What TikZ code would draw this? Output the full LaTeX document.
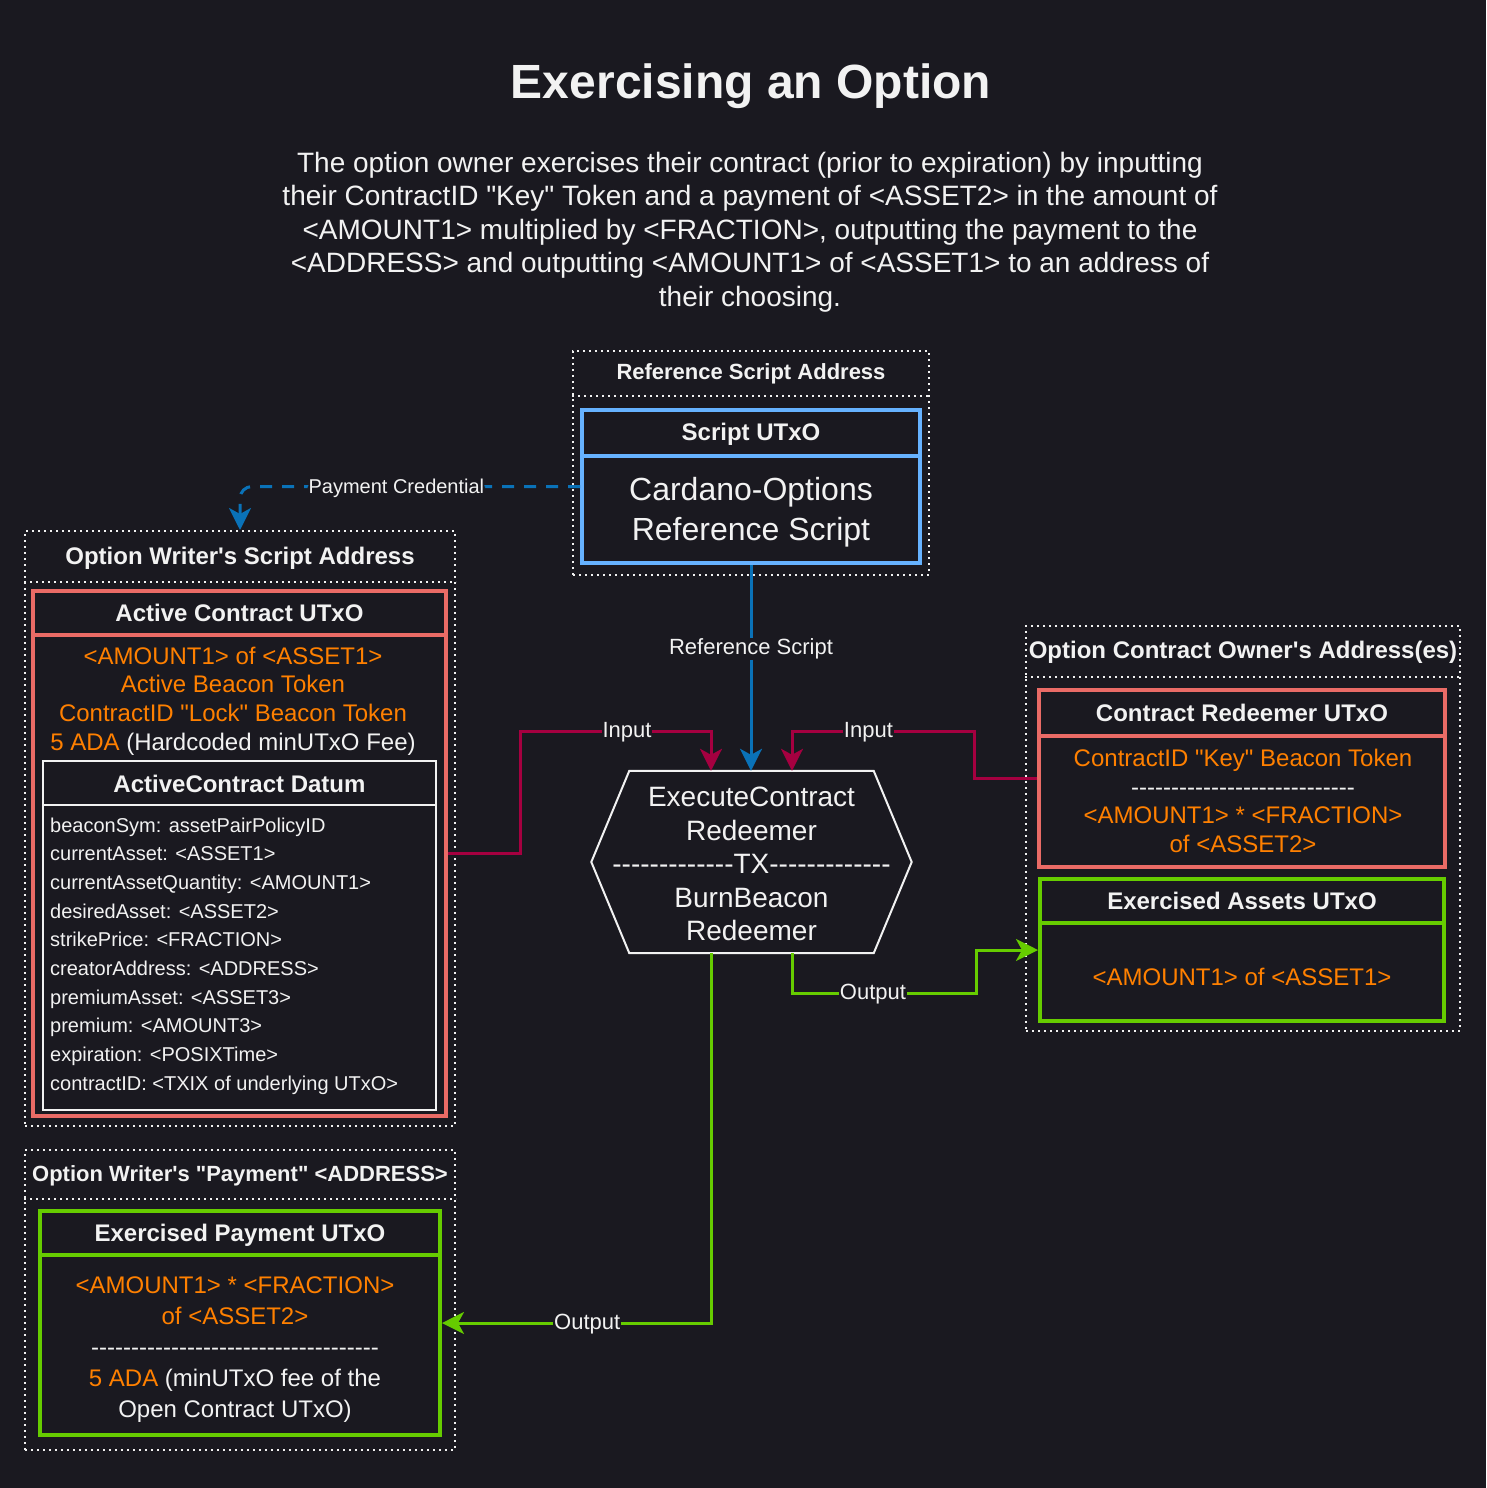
\documentclass[tikz,border=0pt]{standalone}
\usepackage{fontspec}
\setmainfont{Liberation Sans}[Ligatures=TeXOff]
\usetikzlibrary{arrows.meta}
\definecolor{bgcol}{HTML}{1A1920}
\definecolor{fgcol}{HTML}{F2F2F2}
\definecolor{redcol}{HTML}{EA6B66}
\definecolor{bluecol}{HTML}{66B2FF}
\definecolor{greencol}{HTML}{66CC00}
\definecolor{orangecol}{HTML}{FF8000}
\definecolor{linkblue}{HTML}{0A72B8}
\definecolor{inputcol}{HTML}{A50040}
\newcommand{\setfs}[2]{\fontsize{#1pt}{#2pt}\selectfont}
\tikzset{
  every node/.style={text=fgcol, inner sep=0pt},
  addrbox/.style={draw=fgcol, line width=2pt, dash pattern=on 2pt off 4pt},
  addrline/.style={fgcol, line width=2pt, dash pattern=on 2pt off 4pt},
  utxobox/.style={line width=4pt},
  addrtitle/.style={font=\bfseries\setfs{24}{29}},
  boxtitle/.style={font=\bfseries\setfs{24}{29}},
  bodytext/.style={font=\setfs{24}{28.8}, align=center},
  fieldtext/.style={font=\setfs{20}{28.7}, align=left},
  edgelabel/.style={font=\setfs{22}{26}, fill=bgcol, inner sep=1pt, yshift=-1.5pt},
  link/.style={line width=3pt, ->},
}

\begin{document}
\begin{tikzpicture}[x=1pt, y=-1pt, >={Stealth[length=22pt, width=22pt, inset=6pt]}]

  % Background.
  \fill[bgcol] (0,0) rectangle (1486,1488);
  \useasboundingbox (0,0) rectangle (1486,1488);

  % Title and description.
  \node[font=\bfseries\setfs{48}{58}] (title) at (751,86) {Exercising an Option};
  \node[font=\setfs{28}{33.6}, align=center] (desc) at (750,232)
    {The option owner exercises their contract (prior to expiration) by inputting\\
     their ContractID "Key" Token and a payment of <ASSET2> in the amount of\\
     <AMOUNT1> multiplied by <FRACTION>, outputting the payment to the\\
     <ADDRESS> and outputting <AMOUNT1> of <ASSET1> to an address of\\
     their choosing.};

  % Reference script address.
  \node[addrbox, minimum width=356pt, minimum height=224pt] (refaddr) at (751,463) {};
  \draw[addrline] ([yshift=-46pt]refaddr.north west) -- ([yshift=-46pt]refaddr.north east);
  \node[font=\bfseries\setfs{22}{26}] (reftitle) at ([yshift=-24pt]refaddr.north) {Reference Script Address};

  \node[utxobox, draw=bluecol, minimum width=338pt, minimum height=153pt] (script) at (751,486.5) {};
  \draw[utxobox, bluecol] ([yshift=-48pt]script.north west) -- ([yshift=-48pt]script.north east);
  \node[boxtitle] (scripttitle) at ([yshift=-26pt]script.north) {Script UTxO};
  \node[font=\setfs{32}{40}, align=center] (scriptbody) at (751,512) {Cardano-Options\\Reference Script};

  % Option writer's script address.
  \node[addrbox, minimum width=430pt, minimum height=595pt] (writeraddr) at (240,828.5) {};
  \draw[addrline] ([yshift=-52pt]writeraddr.north west) -- ([yshift=-52pt]writeraddr.north east);
  \node[addrtitle] (writertitle) at ([yshift=-28pt]writeraddr.north) {Option Writer's Script Address};

  \node[utxobox, draw=redcol, minimum width=413pt, minimum height=525pt] (active) at (239.5,853.5) {};
  \draw[utxobox, redcol] ([yshift=-46pt]active.north west) -- ([yshift=-46pt]active.north east);
  \node[boxtitle] (activetitle) at ([yshift=-24pt]active.north) {Active Contract UTxO};
  \node[bodytext] (activebody) at (233,701)
    {\textcolor{orangecol}{<AMOUNT1> of <ASSET1>}\\
     \textcolor{orangecol}{Active Beacon Token}\\
     \textcolor{orangecol}{ContractID "Lock" Beacon Token}\\
     \textcolor{orangecol}{5 ADA} (Hardcoded minUTxO Fee)};

  \node[draw=fgcol, line width=2pt, minimum width=393pt, minimum height=349pt] (datum) at (239.5,935.5) {};
  \draw[fgcol, line width=2pt] ([yshift=-45pt]datum.north west) -- ([yshift=-45pt]datum.north east);
  \node[boxtitle] (datumtitle) at ([yshift=-24pt]datum.north) {ActiveContract Datum};
  \node[fieldtext, anchor=west] (datumfields) at (50,956)
    {beaconSym: assetPairPolicyID\\
     currentAsset: <ASSET1>\\
     currentAssetQuantity: <AMOUNT1>\\
     desiredAsset: <ASSET2>\\
     strikePrice: <FRACTION>\\
     creatorAddress: <ADDRESS>\\
     premiumAsset: <ASSET3>\\
     premium: <AMOUNT3>\\
     expiration: <POSIXTime>\\
     contractID: <TXIX of underlying UTxO>};

  % Option writer's payment address.
  \node[addrbox, minimum width=430pt, minimum height=300pt] (payaddr) at (240,1300) {};
  \draw[addrline] ([yshift=-50pt]payaddr.north west) -- ([yshift=-50pt]payaddr.north east);
  \node[font=\bfseries\setfs{22}{26}] (paytitle) at ([yshift=-27pt]payaddr.north) {Option Writer's "Payment" <ADDRESS>};

  \node[utxobox, draw=greencol, minimum width=400pt, minimum height=224pt] (paybox) at (240,1323) {};
  \draw[utxobox, greencol] ([yshift=-46pt]paybox.north west) -- ([yshift=-46pt]paybox.north east);
  \node[boxtitle] (payboxtitle) at ([yshift=-26pt]paybox.north) {Exercised Payment UTxO};
  \node[font=\setfs{24}{31}, align=center] (paybody) at (235,1350)
    {\textcolor{orangecol}{<AMOUNT1> * <FRACTION>}\\
     \textcolor{orangecol}{of <ASSET2>}\\
     ------------------------------------\\
     \textcolor{orangecol}{5 ADA} (minUTxO fee of the\\
     Open Contract UTxO)};

  % Option contract owner's address.
  \node[addrbox, minimum width=434pt, minimum height=405pt] (owneraddr) at (1243,828.5) {};
  \draw[addrline] ([yshift=-52pt]owneraddr.north west) -- ([yshift=-52pt]owneraddr.north east);
  \node[addrtitle] (ownertitle) at ([yshift=-27pt]owneraddr.north) {Option Contract Owner's Address(es)};

  \node[utxobox, draw=redcol, minimum width=406pt, minimum height=177pt] (redeemer) at (1242,778.5) {};
  \draw[utxobox, redcol] ([yshift=-48pt]redeemer.north west) -- ([yshift=-48pt]redeemer.north east);
  \node[boxtitle] (redeemertitle) at ([yshift=-25pt]redeemer.north) {Contract Redeemer UTxO};
  \node[bodytext] (redeemerbody) at (1243,801)
    {\textcolor{orangecol}{ContractID "Key" Beacon Token}\\
     ----------------------------\\
     \textcolor{orangecol}{<AMOUNT1> * <FRACTION>}\\
     \textcolor{orangecol}{of <ASSET2>}};

  \node[utxobox, draw=greencol, minimum width=404pt, minimum height=142pt] (assets) at (1242,950) {};
  \draw[utxobox, greencol] ([yshift=-46pt]assets.north west) -- ([yshift=-46pt]assets.north east);
  \node[boxtitle] (assetstitle) at ([yshift=-24pt]assets.north) {Exercised Assets UTxO};
  \node[bodytext, text=orangecol] (assetsbody) at (1242,977) {<AMOUNT1> of <ASSET1>};

  % Transaction.
  \node[minimum width=320pt, minimum height=182pt] (tx) at (751.5,862) {};
  \draw[fgcol, line width=2pt] (tx.west) -- ([xshift=38pt]tx.north west) -- ([xshift=-38pt]tx.north east)
    -- (tx.east) -- ([xshift=-38pt]tx.south east) -- ([xshift=38pt]tx.south west) -- cycle;
  \node[font=\setfs{28}{33.6}, align=center] (txtext) at (751.5,864)
    {ExecuteContract\\Redeemer\\-------------TX-------------\\BurnBeacon\\Redeemer};

  % Links.
  \draw[link, linkblue, dash pattern=on 12pt off 10pt, rounded corners=12pt] (script.west)
    -| node[edgelabel, font=\setfs{20}{24}, pos=0.27] {Payment Credential} (writeraddr.north);
  \draw[link, linkblue] (script.south) -- node[edgelabel, pos=0.4] {Reference Script} (script.south |- tx.north);

  \coordinate (injoinl) at (711,731);
  \coordinate (injoinr) at (792,731);
  \coordinate (outjoin) at (976,993);

  \draw[link, inputcol] (active.east) -- ++(72,0) |- node[edgelabel, pos=0.78] {Input} (injoinl)
    -- (injoinl |- tx.north);
  \draw[link, inputcol] (redeemer.west) -- ++(-63,0) |- node[edgelabel, pos=0.79] {Input} (injoinr)
    -- (injoinr |- tx.north);

  \draw[link, greencol] (tx.south -| injoinr) |- node[edgelabel, pos=0.72] {Output} (outjoin)
    |- (assets.west);
  \draw[link, greencol] (tx.south -| injoinl) |- node[edgelabel, pos=0.73] {Output} (paybox.east);

\end{tikzpicture}
\end{document}
